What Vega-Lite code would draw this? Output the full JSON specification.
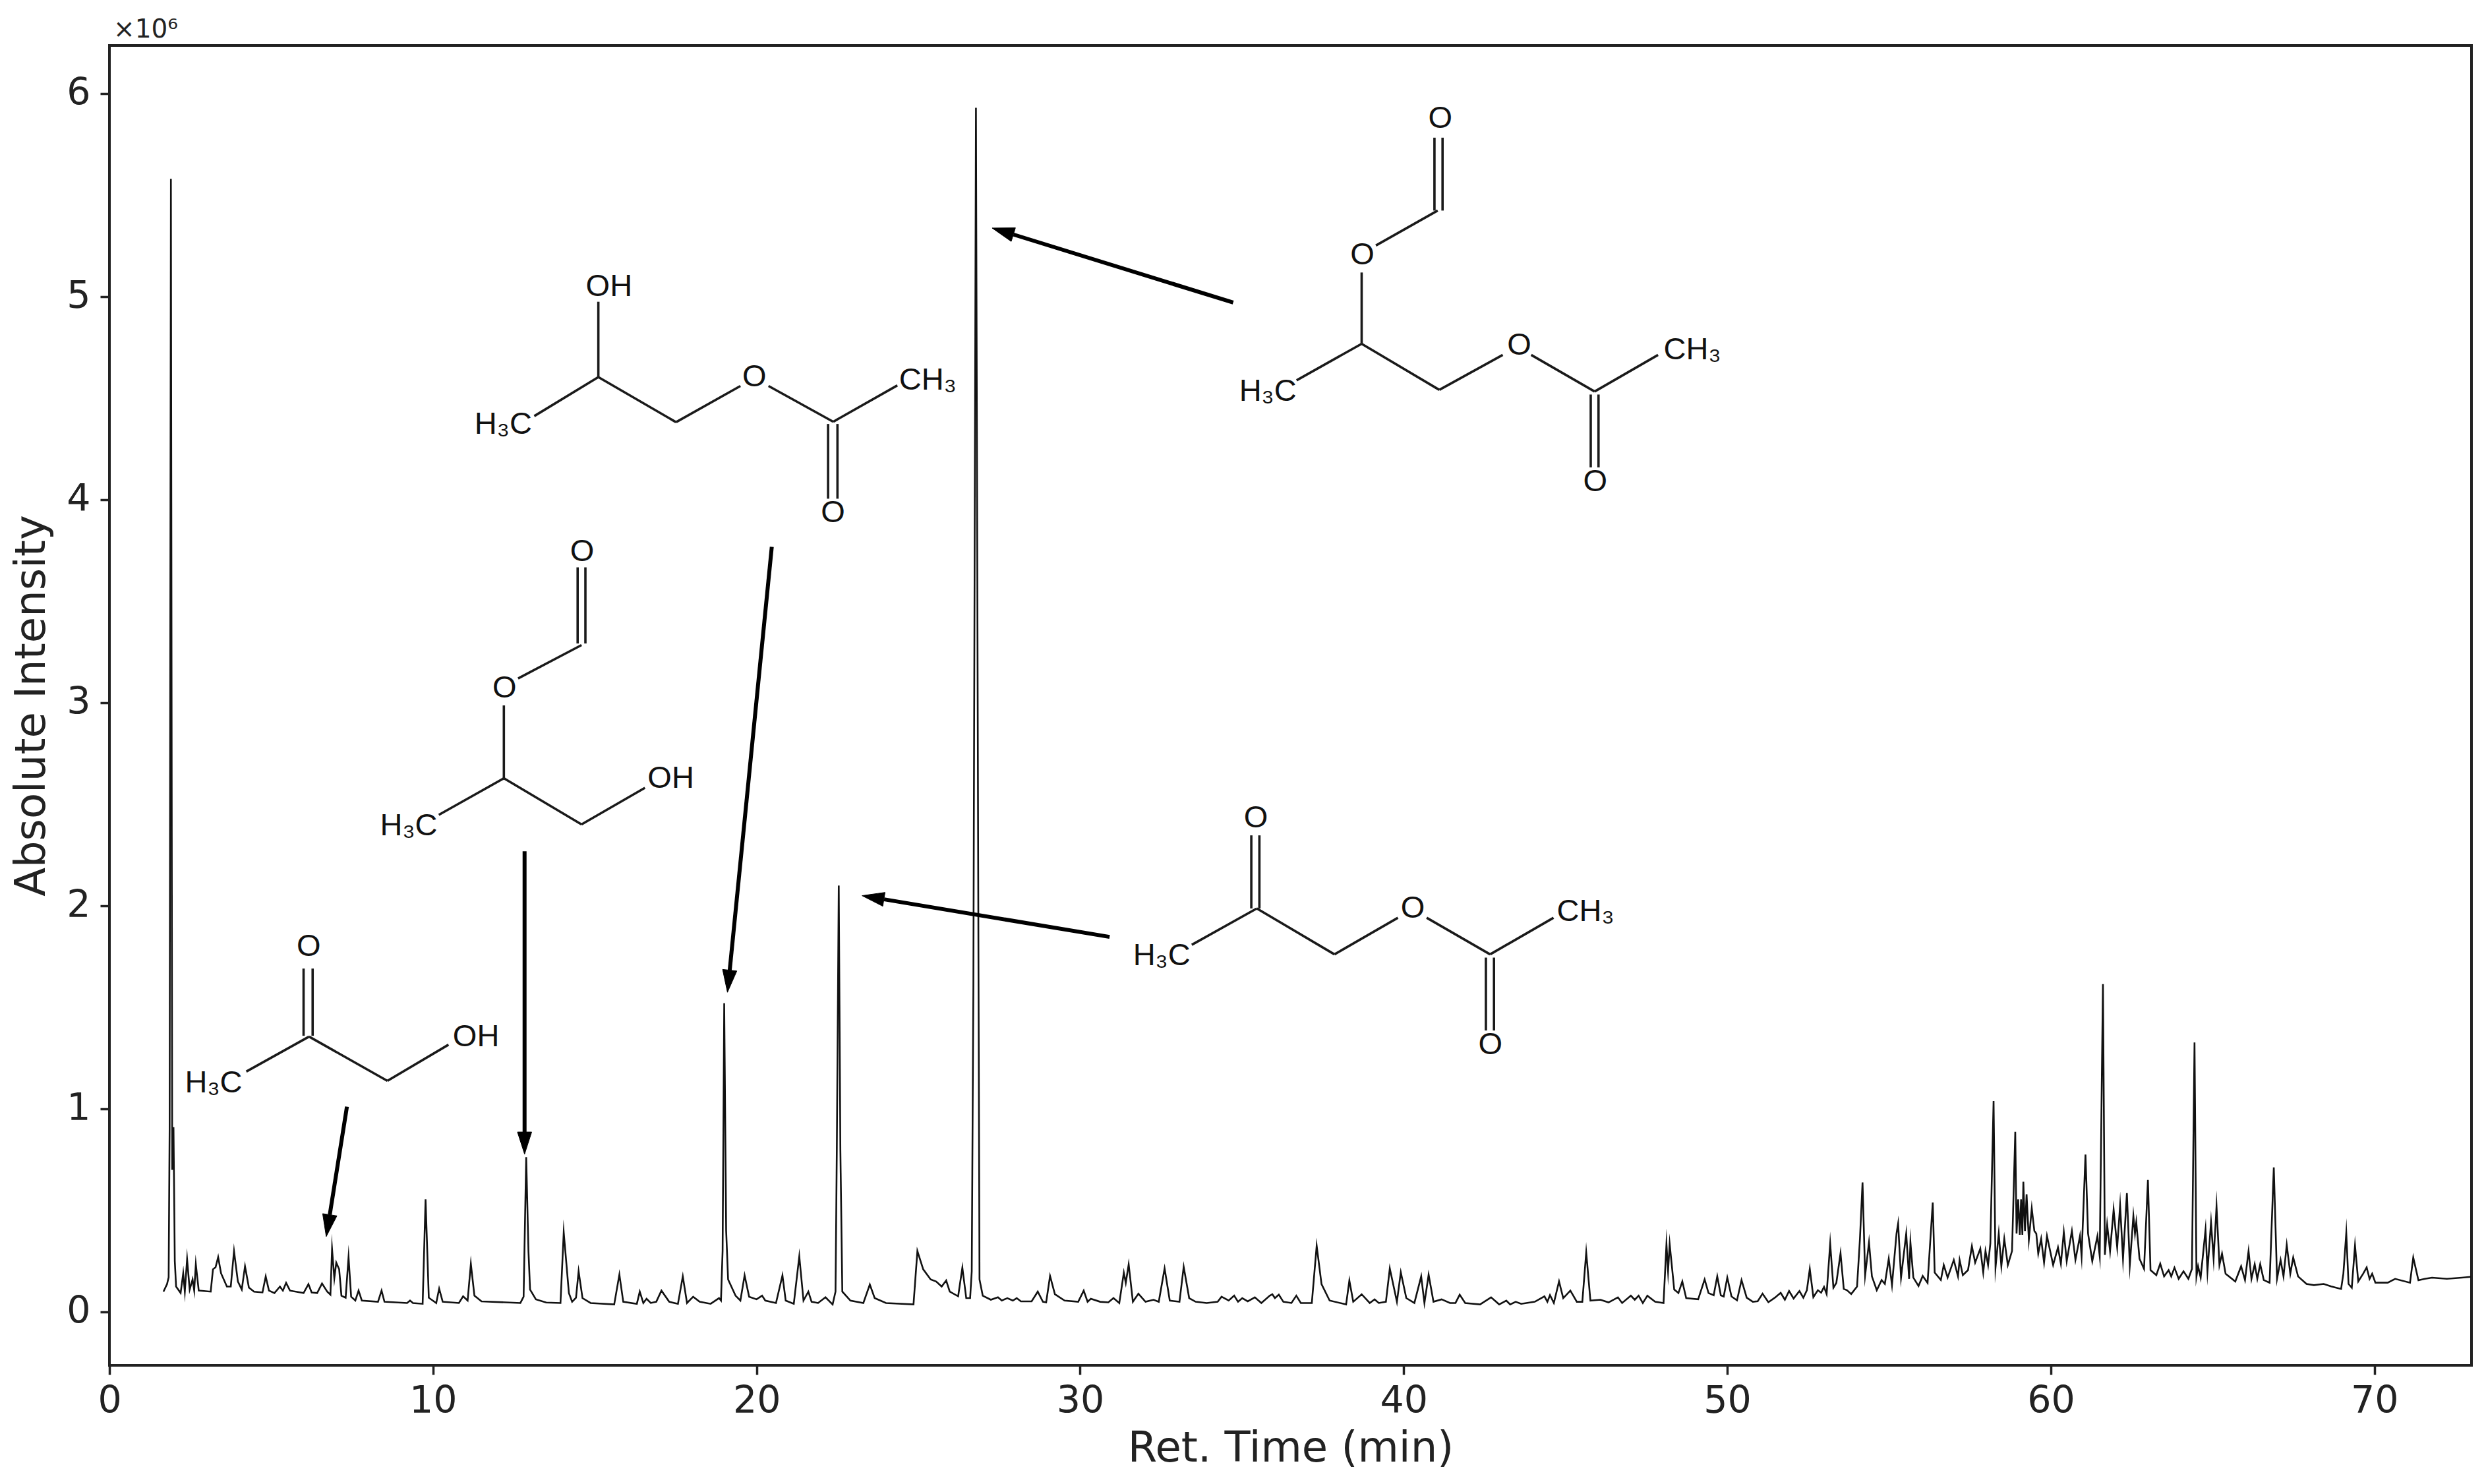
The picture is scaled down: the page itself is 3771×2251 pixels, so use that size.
{"$schema":"https://vega.github.io/schema/vega-lite/v6.json","autosize":{"type":"none"},"padding":{"left":166,"top":69,"right":22,"bottom":180},"width":3583,"height":2002,"background":"white","config":{"view":{"stroke":"#222222","strokeWidth":4}},
"datasets":{"trace":[
{"t":1.67,"i":0.1},{"t":1.78,"i":0.137},{"t":1.83,"i":0.17},{"t":1.86,"i":0.9},{"t":1.9,"i":5.58},{"t":1.94,"i":0.7},{"t":1.98,"i":0.91},{"t":2.02,"i":0.25},{"t":2.06,"i":0.125},{"t":2.2,"i":0.093},{"t":2.28,"i":0.19},{"t":2.33,"i":0.1},{"t":2.4,"i":0.26},{"t":2.48,"i":0.11},{"t":2.57,"i":0.16},{"t":2.62,"i":0.105},{"t":2.67,"i":0.235},{"t":2.76,"i":0.105},{"t":3.13,"i":0.1},{"t":3.2,"i":0.21},{"t":3.28,"i":0.22},{"t":3.36,"i":0.27},{"t":3.45,"i":0.19},{"t":3.63,"i":0.125},{"t":3.75,"i":0.125},{"t":3.85,"i":0.3},{"t":3.97,"i":0.15},{"t":4.09,"i":0.11},{"t":4.19,"i":0.225},{"t":4.31,"i":0.12},{"t":4.47,"i":0.1},{"t":4.73,"i":0.096},{"t":4.83,"i":0.175},{"t":4.93,"i":0.105},{"t":5.1,"i":0.093},{"t":5.27,"i":0.125},{"t":5.36,"i":0.105},{"t":5.46,"i":0.143},{"t":5.58,"i":0.105},{"t":6.0,"i":0.093},{"t":6.15,"i":0.137},{"t":6.25,"i":0.096},{"t":6.42,"i":0.093},{"t":6.57,"i":0.14},{"t":6.73,"i":0.1},{"t":6.83,"i":0.085},{"t":6.88,"i":0.31},{"t":6.95,"i":0.165},{"t":7.01,"i":0.243},{"t":7.1,"i":0.21},{"t":7.17,"i":0.08},{"t":7.3,"i":0.07},{"t":7.39,"i":0.27},{"t":7.47,"i":0.075},{"t":7.6,"i":0.056},{"t":7.7,"i":0.105},{"t":7.8,"i":0.056},{"t":8.3,"i":0.05},{"t":8.41,"i":0.105},{"t":8.5,"i":0.05},{"t":9.2,"i":0.044},{"t":9.29,"i":0.056},{"t":9.38,"i":0.044},{"t":9.68,"i":0.04},{"t":9.77,"i":0.554},{"t":9.87,"i":0.07},{"t":10.1,"i":0.044},{"t":10.19,"i":0.115},{"t":10.3,"i":0.05},{"t":10.8,"i":0.044},{"t":10.93,"i":0.077},{"t":11.07,"i":0.056},{"t":11.17,"i":0.237},{"t":11.28,"i":0.08},{"t":11.5,"i":0.052},{"t":12.7,"i":0.044},{"t":12.8,"i":0.075},{"t":12.88,"i":0.762},{"t":12.95,"i":0.3},{"t":13.0,"i":0.11},{"t":13.18,"i":0.062},{"t":13.5,"i":0.046},{"t":13.94,"i":0.044},{"t":14.04,"i":0.392},{"t":14.2,"i":0.093},{"t":14.3,"i":0.05},{"t":14.42,"i":0.07},{"t":14.5,"i":0.2},{"t":14.62,"i":0.068},{"t":14.87,"i":0.044},{"t":15.6,"i":0.037},{"t":15.76,"i":0.184},{"t":15.88,"i":0.05},{"t":16.3,"i":0.04},{"t":16.39,"i":0.1},{"t":16.5,"i":0.044},{"t":16.6,"i":0.065},{"t":16.73,"i":0.044},{"t":16.9,"i":0.05},{"t":17.06,"i":0.105},{"t":17.3,"i":0.05},{"t":17.57,"i":0.04},{"t":17.72,"i":0.175},{"t":17.85,"i":0.044},{"t":18.04,"i":0.075},{"t":18.24,"i":0.05},{"t":18.58,"i":0.04},{"t":18.84,"i":0.068},{"t":18.9,"i":0.056},{"t":18.95,"i":0.3},{"t":19.0,"i":1.52},{"t":19.06,"i":0.4},{"t":19.12,"i":0.16},{"t":19.35,"i":0.08},{"t":19.5,"i":0.056},{"t":19.63,"i":0.18},{"t":19.77,"i":0.075},{"t":20.0,"i":0.062},{"t":20.17,"i":0.08},{"t":20.27,"i":0.056},{"t":20.6,"i":0.044},{"t":20.8,"i":0.18},{"t":20.9,"i":0.056},{"t":21.15,"i":0.04},{"t":21.32,"i":0.274},{"t":21.45,"i":0.056},{"t":21.6,"i":0.1},{"t":21.7,"i":0.05},{"t":21.9,"i":0.044},{"t":22.13,"i":0.072},{"t":22.35,"i":0.037},{"t":22.44,"i":0.1},{"t":22.48,"i":0.8},{"t":22.54,"i":2.1},{"t":22.59,"i":0.8},{"t":22.65,"i":0.1},{"t":22.9,"i":0.056},{"t":23.3,"i":0.044},{"t":23.5,"i":0.135},{"t":23.65,"i":0.068},{"t":24.0,"i":0.044},{"t":24.85,"i":0.037},{"t":24.97,"i":0.3},{"t":25.15,"i":0.21},{"t":25.38,"i":0.16},{"t":25.55,"i":0.15},{"t":25.72,"i":0.125},{"t":25.86,"i":0.155},{"t":25.97,"i":0.1},{"t":26.23,"i":0.077},{"t":26.36,"i":0.218},{"t":26.48,"i":0.068},{"t":26.6,"i":0.068},{"t":26.65,"i":0.2},{"t":26.7,"i":1.6},{"t":26.78,"i":5.93},{"t":26.86,"i":1.6},{"t":26.89,"i":0.16},{"t":26.99,"i":0.08},{"t":27.24,"i":0.06},{"t":27.46,"i":0.072},{"t":27.58,"i":0.056},{"t":27.75,"i":0.068},{"t":27.92,"i":0.056},{"t":28.04,"i":0.068},{"t":28.17,"i":0.052},{"t":28.5,"i":0.052},{"t":28.69,"i":0.1},{"t":28.85,"i":0.05},{"t":28.95,"i":0.047},{"t":29.07,"i":0.177},{"t":29.22,"i":0.087},{"t":29.52,"i":0.056},{"t":29.94,"i":0.05},{"t":30.11,"i":0.105},{"t":30.23,"i":0.05},{"t":30.33,"i":0.065},{"t":30.62,"i":0.05},{"t":30.87,"i":0.047},{"t":31.03,"i":0.068},{"t":31.21,"i":0.044},{"t":31.35,"i":0.193},{"t":31.41,"i":0.143},{"t":31.5,"i":0.234},{"t":31.63,"i":0.05},{"t":31.8,"i":0.09},{"t":32.02,"i":0.05},{"t":32.27,"i":0.06},{"t":32.43,"i":0.05},{"t":32.61,"i":0.214},{"t":32.77,"i":0.056},{"t":33.07,"i":0.05},{"t":33.2,"i":0.222},{"t":33.37,"i":0.068},{"t":33.57,"i":0.05},{"t":33.91,"i":0.044},{"t":34.25,"i":0.05},{"t":34.37,"i":0.075},{"t":34.59,"i":0.056},{"t":34.76,"i":0.08},{"t":34.88,"i":0.05},{"t":35.01,"i":0.068},{"t":35.18,"i":0.052},{"t":35.4,"i":0.072},{"t":35.6,"i":0.044},{"t":35.86,"i":0.08},{"t":35.94,"i":0.087},{"t":36.02,"i":0.068},{"t":36.14,"i":0.085},{"t":36.28,"i":0.05},{"t":36.53,"i":0.044},{"t":36.68,"i":0.08},{"t":36.82,"i":0.044},{"t":37.16,"i":0.044},{"t":37.31,"i":0.326},{"t":37.46,"i":0.137},{"t":37.71,"i":0.056},{"t":38.22,"i":0.037},{"t":38.32,"i":0.155},{"t":38.44,"i":0.05},{"t":38.7,"i":0.087},{"t":38.95,"i":0.044},{"t":39.1,"i":0.062},{"t":39.23,"i":0.044},{"t":39.45,"i":0.05},{"t":39.57,"i":0.214},{"t":39.79,"i":0.05},{"t":39.91,"i":0.195},{"t":40.08,"i":0.068},{"t":40.33,"i":0.044},{"t":40.54,"i":0.175},{"t":40.64,"i":0.044},{"t":40.77,"i":0.183},{"t":40.92,"i":0.05},{"t":41.17,"i":0.062},{"t":41.43,"i":0.044},{"t":41.6,"i":0.044},{"t":41.73,"i":0.085},{"t":41.9,"i":0.044},{"t":42.36,"i":0.037},{"t":42.7,"i":0.072},{"t":42.95,"i":0.037},{"t":43.17,"i":0.056},{"t":43.29,"i":0.037},{"t":43.46,"i":0.05},{"t":43.63,"i":0.04},{"t":44.05,"i":0.05},{"t":44.35,"i":0.077},{"t":44.44,"i":0.05},{"t":44.52,"i":0.083},{"t":44.64,"i":0.044},{"t":44.8,"i":0.15},{"t":44.93,"i":0.068},{"t":45.15,"i":0.105},{"t":45.35,"i":0.05},{"t":45.52,"i":0.05},{"t":45.64,"i":0.293},{"t":45.77,"i":0.056},{"t":46.08,"i":0.06},{"t":46.33,"i":0.047},{"t":46.62,"i":0.072},{"t":46.75,"i":0.044},{"t":47.02,"i":0.08},{"t":47.14,"i":0.06},{"t":47.26,"i":0.08},{"t":47.39,"i":0.044},{"t":47.53,"i":0.08},{"t":47.77,"i":0.05},{"t":48.03,"i":0.044},{"t":48.12,"i":0.334},{"t":48.17,"i":0.2},{"t":48.22,"i":0.334},{"t":48.36,"i":0.11},{"t":48.49,"i":0.093},{"t":48.61,"i":0.15},{"t":48.73,"i":0.068},{"t":49.1,"i":0.062},{"t":49.3,"i":0.16},{"t":49.42,"i":0.093},{"t":49.58,"i":0.082},{"t":49.69,"i":0.175},{"t":49.8,"i":0.082},{"t":49.89,"i":0.076},{"t":50.0,"i":0.169},{"t":50.13,"i":0.076},{"t":50.3,"i":0.057},{"t":50.44,"i":0.157},{"t":50.6,"i":0.07},{"t":50.79,"i":0.05},{"t":50.94,"i":0.053},{"t":51.09,"i":0.09},{"t":51.27,"i":0.048},{"t":51.47,"i":0.07},{"t":51.65,"i":0.094},{"t":51.78,"i":0.06},{"t":51.91,"i":0.103},{"t":52.05,"i":0.066},{"t":52.23,"i":0.103},{"t":52.35,"i":0.07},{"t":52.46,"i":0.107},{"t":52.55,"i":0.212},{"t":52.66,"i":0.073},{"t":52.8,"i":0.107},{"t":52.9,"i":0.095},{"t":52.99,"i":0.123},{"t":53.07,"i":0.088},{"t":53.18,"i":0.337},{"t":53.28,"i":0.119},{"t":53.37,"i":0.143},{"t":53.5,"i":0.289},{"t":53.6,"i":0.113},{"t":53.7,"i":0.107},{"t":53.83,"i":0.088},{"t":54.01,"i":0.125},{"t":54.1,"i":0.36},{"t":54.18,"i":0.638},{"t":54.26,"i":0.18},{"t":54.38,"i":0.343},{"t":54.47,"i":0.175},{"t":54.62,"i":0.107},{"t":54.77,"i":0.157},{"t":54.87,"i":0.138},{"t":54.99,"i":0.262},{"t":55.09,"i":0.132},{"t":55.23,"i":0.386},{"t":55.28,"i":0.436},{"t":55.37,"i":0.169},{"t":55.53,"i":0.386},{"t":55.62,"i":0.163},{"t":55.66,"i":0.343},{"t":55.75,"i":0.169},{"t":55.91,"i":0.128},{"t":56.04,"i":0.177},{"t":56.19,"i":0.143},{"t":56.35,"i":0.539},{"t":56.41,"i":0.194},{"t":56.6,"i":0.157},{"t":56.69,"i":0.231},{"t":56.81,"i":0.169},{"t":57.0,"i":0.256},{"t":57.13,"i":0.175},{"t":57.18,"i":0.256},{"t":57.28,"i":0.181},{"t":57.44,"i":0.206},{"t":57.56,"i":0.324},{"t":57.66,"i":0.243},{"t":57.82,"i":0.312},{"t":57.91,"i":0.194},{"t":57.98,"i":0.3},{"t":58.06,"i":0.231},{"t":58.13,"i":0.337},{"t":58.23,"i":1.039},{"t":58.29,"i":0.219},{"t":58.39,"i":0.386},{"t":58.47,"i":0.225},{"t":58.56,"i":0.36},{"t":58.67,"i":0.231},{"t":58.8,"i":0.3},{"t":58.9,"i":0.887},{"t":58.94,"i":0.386},{"t":58.99,"i":0.554},{"t":59.04,"i":0.38},{"t":59.08,"i":0.554},{"t":59.12,"i":0.38},{"t":59.15,"i":0.641},{"t":59.2,"i":0.399},{"t":59.25,"i":0.579},{"t":59.32,"i":0.355},{"t":59.41,"i":0.51},{"t":59.49,"i":0.399},{"t":59.55,"i":0.386},{"t":59.61,"i":0.287},{"t":59.7,"i":0.36},{"t":59.79,"i":0.243},{"t":59.88,"i":0.374},{"t":60.07,"i":0.231},{"t":60.22,"i":0.318},{"t":60.31,"i":0.237},{"t":60.4,"i":0.393},{"t":60.49,"i":0.25},{"t":60.65,"i":0.399},{"t":60.76,"i":0.256},{"t":60.9,"i":0.374},{"t":60.95,"i":0.275},{"t":61.07,"i":0.775},{"t":61.15,"i":0.386},{"t":61.28,"i":0.25},{"t":61.44,"i":0.374},{"t":61.51,"i":0.275},{"t":61.61,"i":1.614},{"t":61.67,"i":0.281},{"t":61.74,"i":0.43},{"t":61.83,"i":0.299},{"t":61.94,"i":0.504},{"t":62.05,"i":0.318},{"t":62.14,"i":0.525},{"t":62.23,"i":0.261},{"t":62.35,"i":0.585},{"t":62.44,"i":0.231},{"t":62.55,"i":0.473},{"t":62.6,"i":0.386},{"t":62.64,"i":0.442},{"t":62.74,"i":0.262},{"t":62.88,"i":0.212},{"t":63.0,"i":0.65},{"t":63.08,"i":0.206},{"t":63.26,"i":0.181},{"t":63.38,"i":0.238},{"t":63.5,"i":0.175},{"t":63.64,"i":0.206},{"t":63.72,"i":0.175},{"t":63.82,"i":0.218},{"t":63.95,"i":0.163},{"t":64.1,"i":0.2},{"t":64.25,"i":0.163},{"t":64.36,"i":0.212},{"t":64.44,"i":1.327},{"t":64.5,"i":0.175},{"t":64.55,"i":0.225},{"t":64.63,"i":0.169},{"t":64.78,"i":0.405},{"t":64.84,"i":0.2},{"t":64.95,"i":0.442},{"t":65.03,"i":0.262},{"t":65.12,"i":0.519},{"t":65.21,"i":0.231},{"t":65.29,"i":0.287},{"t":65.4,"i":0.188},{"t":65.7,"i":0.15},{"t":65.88,"i":0.225},{"t":66.0,"i":0.157},{"t":66.11,"i":0.3},{"t":66.2,"i":0.163},{"t":66.3,"i":0.235},{"t":66.38,"i":0.163},{"t":66.47,"i":0.235},{"t":66.58,"i":0.157},{"t":66.76,"i":0.144},{"t":66.89,"i":0.712},{"t":66.99,"i":0.163},{"t":67.1,"i":0.256},{"t":67.19,"i":0.175},{"t":67.29,"i":0.33},{"t":67.4,"i":0.188},{"t":67.49,"i":0.268},{"t":67.64,"i":0.175},{"t":67.9,"i":0.138},{"t":68.13,"i":0.132},{"t":68.43,"i":0.138},{"t":68.66,"i":0.126},{"t":68.97,"i":0.113},{"t":69.04,"i":0.188},{"t":69.13,"i":0.389},{"t":69.2,"i":0.138},{"t":69.3,"i":0.119},{"t":69.4,"i":0.327},{"t":69.5,"i":0.15},{"t":69.65,"i":0.188},{"t":69.76,"i":0.219},{"t":69.85,"i":0.163},{"t":69.93,"i":0.188},{"t":70.03,"i":0.144},{"t":70.41,"i":0.144},{"t":70.64,"i":0.163},{"t":71.1,"i":0.144},{"t":71.2,"i":0.268},{"t":71.36,"i":0.156},{"t":71.56,"i":0.163},{"t":71.78,"i":0.169},{"t":72.24,"i":0.163},{"t":72.7,"i":0.169},{"t":72.98,"i":0.173}
],"bonds":[
{"a":6.0,"b":1.691,"c":6.0,"d":1.36},{"a":6.28,"b":1.691,"c":6.28,"d":1.36},{"a":4.23,"b":1.184,"c":6.17,"d":1.356},{"a":6.17,"b":1.356,"c":8.59,"d":1.138},{"a":8.59,"b":1.138,"c":10.48,"d":1.316},
{"a":40.95,"b":5.783,"c":40.95,"d":5.424},{"a":41.2,"b":5.783,"c":41.2,"d":5.424},{"a":41.05,"b":5.424,"c":39.14,"d":5.252},{"a":38.7,"b":5.119,"c":38.7,"d":4.768},{"a":38.7,"b":4.768,"c":36.69,"d":4.588},{"a":38.7,"b":4.768,"c":41.1,"d":4.541},{"a":41.1,"b":4.541,"c":43.06,"d":4.713},{"a":43.94,"b":4.713,"c":45.9,"d":4.533},{"a":45.9,"b":4.533,"c":47.86,"d":4.713},{"a":45.78,"b":4.518,"c":45.78,"d":4.159},{"a":46.02,"b":4.518,"c":46.02,"d":4.159},
{"a":15.11,"b":4.975,"c":15.11,"d":4.604},{"a":15.11,"b":4.604,"c":13.13,"d":4.412},{"a":15.11,"b":4.604,"c":17.51,"d":4.382},{"a":17.51,"b":4.382,"c":19.5,"d":4.56},{"a":20.37,"b":4.56,"c":22.37,"d":4.384},{"a":22.37,"b":4.384,"c":24.35,"d":4.563},{"a":22.21,"b":4.373,"c":22.21,"d":4.005},{"a":22.5,"b":4.373,"c":22.5,"d":4.005},
{"a":14.47,"b":3.667,"c":14.47,"d":3.292},{"a":14.71,"b":3.667,"c":14.71,"d":3.292},{"a":14.59,"b":3.284,"c":12.63,"d":3.12},{"a":12.19,"b":2.987,"c":12.19,"d":2.628},{"a":12.19,"b":2.628,"c":10.18,"d":2.448},{"a":12.19,"b":2.628,"c":14.59,"d":2.401},{"a":14.59,"b":2.401,"c":16.55,"d":2.581},
{"a":35.29,"b":2.347,"c":35.29,"d":1.987},{"a":35.54,"b":2.347,"c":35.54,"d":1.987},{"a":35.46,"b":1.987,"c":33.45,"d":1.808},{"a":35.46,"b":1.987,"c":37.86,"d":1.761},{"a":37.86,"b":1.761,"c":39.82,"d":1.941},{"a":40.71,"b":1.941,"c":42.67,"d":1.761},{"a":42.67,"b":1.761,"c":44.63,"d":1.941},{"a":42.54,"b":1.745,"c":42.54,"d":1.386},{"a":42.79,"b":1.745,"c":42.79,"d":1.386}
],"shafts":[
{"a":7.34,"b":1.011,"c":6.81,"d":0.479},{"a":12.83,"b":2.269,"c":12.83,"d":0.886},{"a":20.47,"b":3.768,"c":19.17,"d":1.683},{"a":30.91,"b":1.847,"c":23.94,"d":2.032},{"a":34.73,"b":4.971,"c":27.94,"d":5.306}
],"heads":[
{"arrow":1,"n":1,"t":7.03,"i":0.473},{"arrow":1,"n":2,"t":6.7,"i":0.371},{"arrow":1,"n":3,"t":6.59,"i":0.484},{"arrow":1,"n":4,"t":7.03,"i":0.473},
{"arrow":2,"n":1,"t":12.61,"i":0.886},{"arrow":2,"n":2,"t":12.83,"i":0.777},{"arrow":2,"n":3,"t":13.05,"i":0.886},{"arrow":2,"n":4,"t":12.61,"i":0.886},
{"arrow":3,"n":1,"t":19.39,"i":1.679},{"arrow":3,"n":2,"t":19.1,"i":1.574},{"arrow":3,"n":3,"t":18.95,"i":1.687},{"arrow":3,"n":4,"t":19.39,"i":1.679},
{"arrow":4,"n":1,"t":23.97,"i":2.066},{"arrow":4,"n":2,"t":23.26,"i":2.05},{"arrow":4,"n":3,"t":23.9,"i":1.998},{"arrow":4,"n":4,"t":23.97,"i":2.066},
{"arrow":5,"n":1,"t":28.0,"i":5.339},{"arrow":5,"n":2,"t":27.28,"i":5.338},{"arrow":5,"n":3,"t":27.87,"i":5.272},{"arrow":5,"n":4,"t":28.0,"i":5.339}
],"atoms":[
{"t":6.16,"i":1.8,"s":"O"},{"t":3.22,"i":1.128,"s":"H₃C"},{"t":11.33,"i":1.355,"s":"OH"},
{"t":41.13,"i":5.877,"s":"O"},{"t":38.72,"i":5.205,"s":"O"},{"t":35.8,"i":4.533,"s":"H₃C"},{"t":43.57,"i":4.76,"s":"O"},{"t":48.92,"i":4.736,"s":"CH₃"},{"t":45.92,"i":4.088,"s":"O"},
{"t":15.44,"i":5.049,"s":"OH"},{"t":19.93,"i":4.604,"s":"O"},{"t":25.29,"i":4.588,"s":"CH₃"},{"t":12.17,"i":4.369,"s":"H₃C"},{"t":22.36,"i":3.935,"s":"O"},
{"t":14.61,"i":3.745,"s":"O"},{"t":12.21,"i":3.073,"s":"O"},{"t":9.25,"i":2.394,"s":"H₃C"},{"t":17.35,"i":2.628,"s":"OH"},
{"t":35.43,"i":2.433,"s":"O"},{"t":32.52,"i":1.753,"s":"H₃C"},{"t":40.28,"i":1.987,"s":"O"},{"t":45.62,"i":1.972,"s":"CH₃"},{"t":42.68,"i":1.316,"s":"O"}
],"offset":[{"t":0,"i":6.237,"s":"×10⁶"}]},
"layer":[
{"data":{"name":"trace"},"mark":{"type":"line","color":"#111111","strokeWidth":2.6,"strokeJoin":"miter","strokeMiterLimit":20},"encoding":{
"x":{"field":"t","type":"quantitative","scale":{"domain":[0,73],"nice":false,"zero":false},"axis":{"title":"Ret. Time (min)","values":[0,10,20,30,40,50,60,70],"format":"d","grid":false,"domain":false,"labelFlush":false,"labelOverlap":false,"labelFont":"DejaVu Sans","labelFontSize":57,"labelColor":"#222222","labelPadding":12,"tickColor":"#222222","tickSize":14,"tickWidth":3.5,"titleFont":"DejaVu Sans","titleFontSize":64,"titleFontWeight":"normal","titleColor":"#222222","titlePadding":12}},
"y":{"field":"i","type":"quantitative","scale":{"domain":[-0.263,6.237],"nice":false,"zero":false},"axis":{"title":"Absolute Intensity","values":[0,1,2,3,4,5,6],"format":"d","grid":false,"domain":false,"labelFlush":false,"labelOverlap":false,"labelFont":"DejaVu Sans","labelFontSize":57,"labelColor":"#222222","labelPadding":15,"tickColor":"#222222","tickSize":14,"tickWidth":3.5,"titleFont":"DejaVu Sans","titleFontSize":64,"titleFontWeight":"normal","titleColor":"#222222","titlePadding":20}}}},
{"data":{"name":"bonds"},"mark":{"type":"rule","color":"#1a1a1a","strokeWidth":3.6},"encoding":{"x":{"field":"a","type":"quantitative"},"y":{"field":"b","type":"quantitative"},"x2":{"field":"c"},"y2":{"field":"d"}}},
{"data":{"name":"shafts"},"mark":{"type":"rule","color":"#000000","strokeWidth":6},"encoding":{"x":{"field":"a","type":"quantitative"},"y":{"field":"b","type":"quantitative"},"x2":{"field":"c"},"y2":{"field":"d"}}},
{"data":{"name":"heads"},"mark":{"type":"line","color":"#000000","fill":"#000000","strokeWidth":1},"encoding":{"x":{"field":"t","type":"quantitative"},"y":{"field":"i","type":"quantitative"},"detail":{"field":"arrow"},"order":{"field":"n","type":"quantitative"}}},
{"data":{"name":"atoms"},"mark":{"type":"text","font":"Liberation Sans","fontSize":47,"color":"#111111","baseline":"middle","align":"center"},"encoding":{"x":{"field":"t","type":"quantitative"},"y":{"field":"i","type":"quantitative"},"text":{"field":"s"}}},
{"data":{"name":"offset"},"mark":{"type":"text","font":"DejaVu Sans","fontSize":39,"color":"#222222","baseline":"alphabetic","align":"left","dx":6,"dy":-12},"encoding":{"x":{"field":"t","type":"quantitative"},"y":{"field":"i","type":"quantitative"},"text":{"field":"s"}}}
]}
